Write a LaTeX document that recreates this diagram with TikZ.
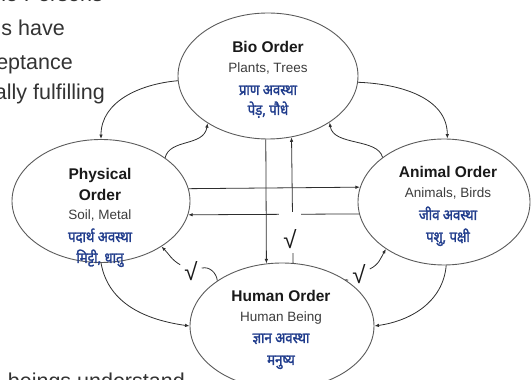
\documentclass[tikz,border=0pt]{standalone}
\usepackage{fontspec}
\setmainfont{Liberation Sans}
\newfontfamily\hindi[Script=Devanagari, FakeBold=1.8, FakeStretch=0.88]{Noto Sans}
\usetikzlibrary{shapes.geometric,arrows.meta}
\definecolor{ringgray}{HTML}{5A5A5A}
\definecolor{linkgray}{HTML}{2E2E2E}
\definecolor{subgray}{HTML}{3C3C3C}
\definecolor{hindiblue}{HTML}{203C8C}
\definecolor{bodygray}{HTML}{333333}

\begin{document}
\begin{tikzpicture}[x=1pt,y=1pt,
  order/.style={ellipse, draw=ringgray, line width=0.9pt, inner sep=0pt},
  title/.style={anchor=base, inner sep=0pt, text=black!90,
    font=\bfseries\fontsize{15.5}{18}\selectfont},
  sub/.style={anchor=base, inner sep=0pt, text=subgray,
    font=\fontsize{13.5}{16}\selectfont},
  hin/.style={anchor=base, inner sep=0pt, text=hindiblue,
    font=\hindi\fontsize{15}{18}\selectfont},
  body/.style={anchor=base east, inner sep=0pt, text=bodygray,
    font=\fontsize{21.5}{26}\selectfont},
  link/.style={draw=linkgray, line width=0.8pt},
  arr/.style={link, -{Latex[length=4.5pt,width=3.5pt]}},
  tick/.style={fill=white, text=black!90, inner xsep=4pt, inner ysep=0.5pt,
    font=\fontsize{24}{26}\selectfont}
]
\useasboundingbox (0,0) rectangle (531,380);
\clip (0,0) rectangle (531,380);

% surrounding paragraph text
\node[body] (p0) at (103,378.5) {the Persons};
\node[body] (p1) at (65,344.3) {s have};
\node[body] (p2) at (73,310.7) {eptance};
\node[body] (p3) at (105,280) {ally fulfilling};
\node[body] (p4) at (185,-8.4) {beings understand};

% check marks on the side links
\node[tick] (chkL) at (191,109) {√};
\node[tick] (chkR) at (359,106) {√};

% the four orders
\node[order, minimum width=180pt, minimum height=126pt] (bio) at (268,304) {};
\node[order, minimum width=178pt, minimum height=123pt] (phys) at (101,179) {};
\node[order, minimum width=172pt, minimum height=126pt] (animal) at (444,178) {};
\node[order, minimum width=184pt, minimum height=126pt] (human) at (282,54) {};

\node[title] (bioA) at (268,327) {Bio Order};
\node[sub]   (bioB) at (268,307) {Plants, Trees};
\node[hin]   (bioC) at (268,285) {प्राण अवस्था};
\node[hin]   (bioD) at (268,265) {पेड़, पौधे};

\node[title] (physA) at (100,200) {Physical};
\node[title] (physB) at (100,179) {Order};
\node[sub]   (physC) at (100,160) {Soil, Metal};
\node[hin]   (physD) at (100,138) {पदार्थ अवस्था};
\node[hin]   (physE) at (100,117) {मिट्टी, धातु};

\node[title] (aniA) at (448,202) {Animal Order};
\node[sub]   (aniB) at (448,182) {Animals, Birds};
\node[hin]   (aniC) at (448,160) {जीव अवस्था};
\node[hin]   (aniD) at (448,138) {पशु, पक्षी};

\node[title] (humA) at (281,78) {Human Order};
\node[sub]   (humB) at (281,58) {Human Being};
\node[hin]   (humC) at (281,37) {ज्ञान अवस्था};
\node[hin]   (humD) at (281,15) {मनुष्य};

% outer cycle
\draw[arr] (bio.183) to[out=185,in=90] (phys.90);
\draw[arr] (bio.-4) to[out=-2,in=90] (animal.87);
\draw[arr] (phys.-90) to[out=-80,in=172] (human.180);
\draw[arr] (animal.-88) to[out=-95,in=8] (human.0);

% wavy returns into Bio Order
\draw[arr] (phys.34) .. controls +(76:20) and +(-99:24) .. (bio.218);
\draw[arr] (animal.144) .. controls +(104:20) and +(-81:24) .. (bio.-37);

% cross links
\draw[arr] (phys.8.5) -- (animal.170.5);
\draw[arr] (animal.188.8) -- (phys.-9.2);
\draw[arr] (bio.268.2) -- (human.104.5);
\draw[arr] (human.80.9) -- (bio.291.6);
\node[tick, anchor=base, text height=37pt, text depth=4pt, inner ysep=0pt,
  minimum width=22pt] (chkC) at (290,131) {√};

% Human Order back to Physical and Animal
\draw[link] (human.145) to[out=95,in=15] (chkL);
\draw[arr] (chkL) to[out=150,in=-45] (phys.-37);
\draw[link] (human.36) to[out=70,in=-150] (chkR);
\draw[arr] (chkR) to[out=25,in=-120] (animal.219);
\end{tikzpicture}
\end{document}
